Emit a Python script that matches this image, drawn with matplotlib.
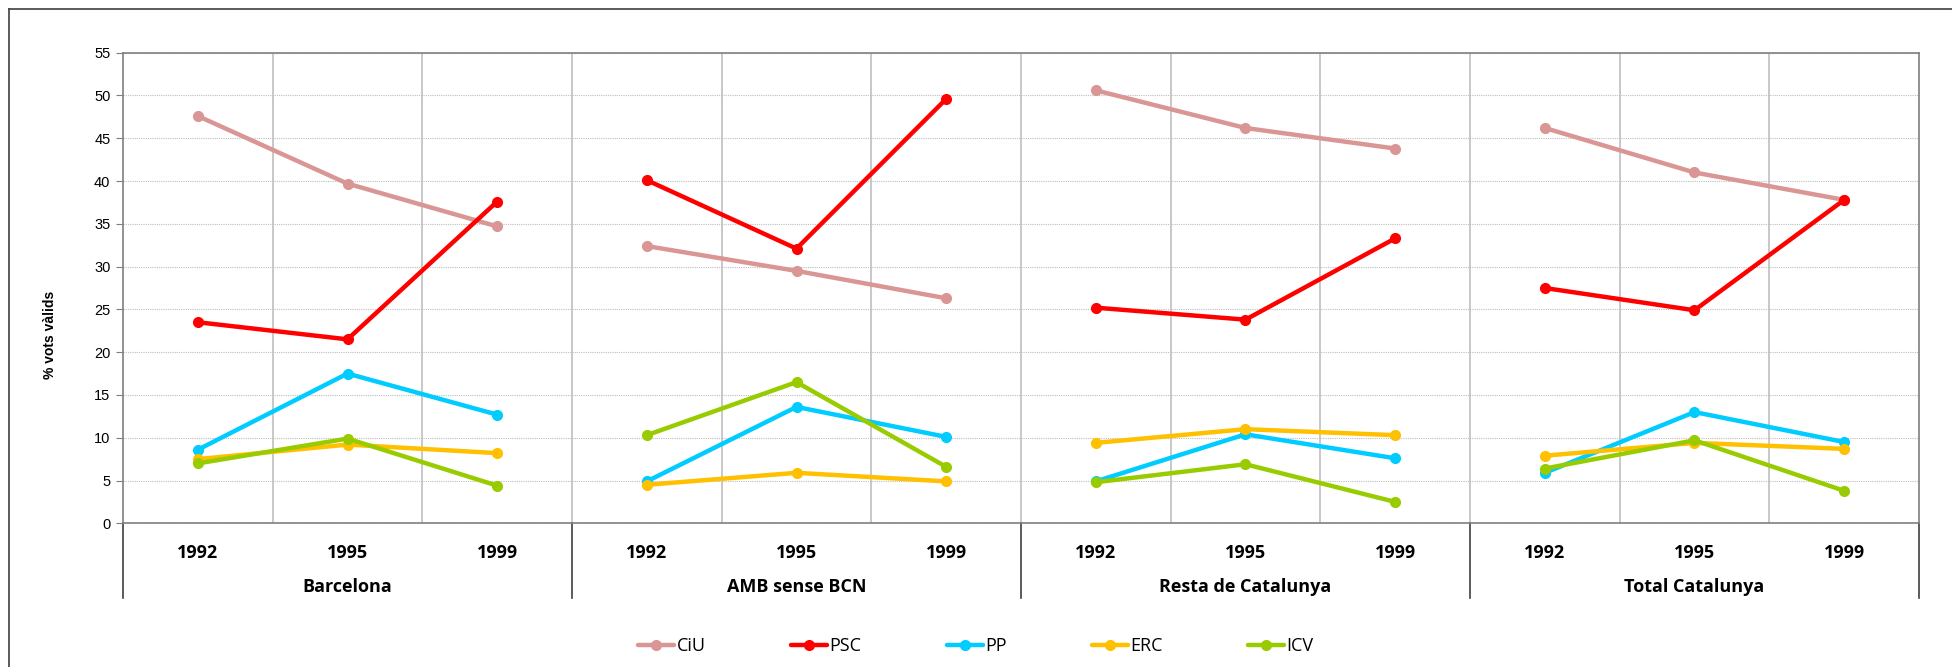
import matplotlib
matplotlib.use("Agg")
import matplotlib.pyplot as plt
import matplotlib.transforms as mtransforms
from matplotlib.lines import Line2D

groups = ["Barcelona", "AMB sense BCN", "Resta de Catalunya", "Total Catalunya"]
years = ["1992", "1995", "1999"]
parties = ["CiU", "PSC", "PP", "ERC", "ICV"]
colors = ["#D99694", "#FF0000", "#00CCFF", "#FFC000", "#99CC00"]

ciu = [47.6, 39.7, 34.7, 32.4, 29.5, 26.3, 50.6, 46.2, 43.8, 46.2, 41.0, 37.8]
psc = [23.5, 21.5, 37.6, 40.1, 32.1, 49.6, 25.2, 23.8, 33.3, 27.5, 24.9, 37.8]
pp = [8.6, 17.5, 12.7, 4.9, 13.6, 10.1, 4.9, 10.4, 7.6, 5.9, 13.0, 9.5]
erc = [7.5, 9.2, 8.2, 4.5, 5.9, 4.9, 9.4, 11.0, 10.3, 7.9, 9.4, 8.7]
icv = [7.0, 9.9, 4.4, 10.3, 16.5, 6.6, 4.8, 6.9, 2.5, 6.4, 9.7, 3.8]
series = [ciu, psc, pp, erc, icv]

W, H = 1952, 667
fig = plt.figure(figsize=(W / 100, H / 100), dpi=100)
ax_left, ax_right = 123 / W, 1919 / W
ax_top, ax_bot = 1 - 52.7 / H, 1 - 523.3 / H
ax = fig.add_axes([ax_left, ax_bot, ax_right - ax_left, ax_top - ax_bot])

n = len(groups) * len(years)
xs = list(range(n))
for vals, name, c in zip(series, parties, colors):
    first = True
    for g in range(len(groups)):
        sl = slice(3 * g, 3 * g + 3)
        ax.plot(xs[sl], vals[sl], color=c, lw=3.2, marker="o", ms=7,
                solid_capstyle="round", label=name if first else None, zorder=3)
        first = False

ax.set_xlim(-0.5, n - 0.5)
ax.set_ylim(0, 55)
ax.set_yticks(range(0, 56, 5))
ax.yaxis.grid(True, color="#BFBFBF", lw=0.8, ls=(0, (1, 1)))
for xv in [i + 0.5 for i in range(n - 1)]:
    ax.axvline(xv, color="#BFBFBF", lw=1.2, zorder=1)
ax.set_axisbelow(True)

for s in ["top", "right", "left", "bottom"]:
    ax.spines[s].set_color("#7F7F7F")
    ax.spines[s].set_linewidth(1.2)

ax.tick_params(axis="y", length=5, color="#7F7F7F", labelsize=10.5, pad=4)
for lab in ax.get_yticklabels():
    lab.set_family("Liberation Sans")

ax.set_xticks(xs)
ax.set_xticklabels(years * len(groups), fontsize=13, fontweight="bold", family="Open Sans")
ax.tick_params(axis="x", length=0, pad=15)

trans = mtransforms.blended_transform_factory(ax.transData, ax.transAxes)
axh = 523.3 - 52.7
grp_y = -(587 - 523.3) / axh
sep_y = -(597.6 - 523.3) / axh
for g, name in enumerate(groups):
    ax.text(3 * g + 1, grp_y, name, transform=trans, ha="center", va="center",
            fontsize=13, fontweight="bold", family="Open Sans")
for xv in [-0.5, 2.5, 5.5, 8.5, 11.5]:
    ax.plot([xv, xv], [0, sep_y], transform=trans, color="#404040", lw=1.2, clip_on=False)

fig.text(50 / W, 1 - 335 / H, "% vots vàlids", rotation=90, ha="center", va="center",
         fontsize=10, fontweight="bold", family="Liberation Sans")

leg = fig.legend(loc="center", bbox_to_anchor=(0.5, 1 - 646 / H), ncol=5, frameon=False,
                 prop={"family": "Open Sans", "size": 13}, handlelength=2.0, handletextpad=0.15,
                 columnspacing=4.7)

# outer chart-area border (left and top edges visible)
fig.add_artist(Line2D([9 / W, 1.0], [1 - 9 / H, 1 - 9 / H], color="#404040", lw=1.2))
fig.add_artist(Line2D([9 / W, 9 / W], [0, 1 - 9 / H], color="#404040", lw=1.2))

fig.savefig("out.png", dpi=100)
